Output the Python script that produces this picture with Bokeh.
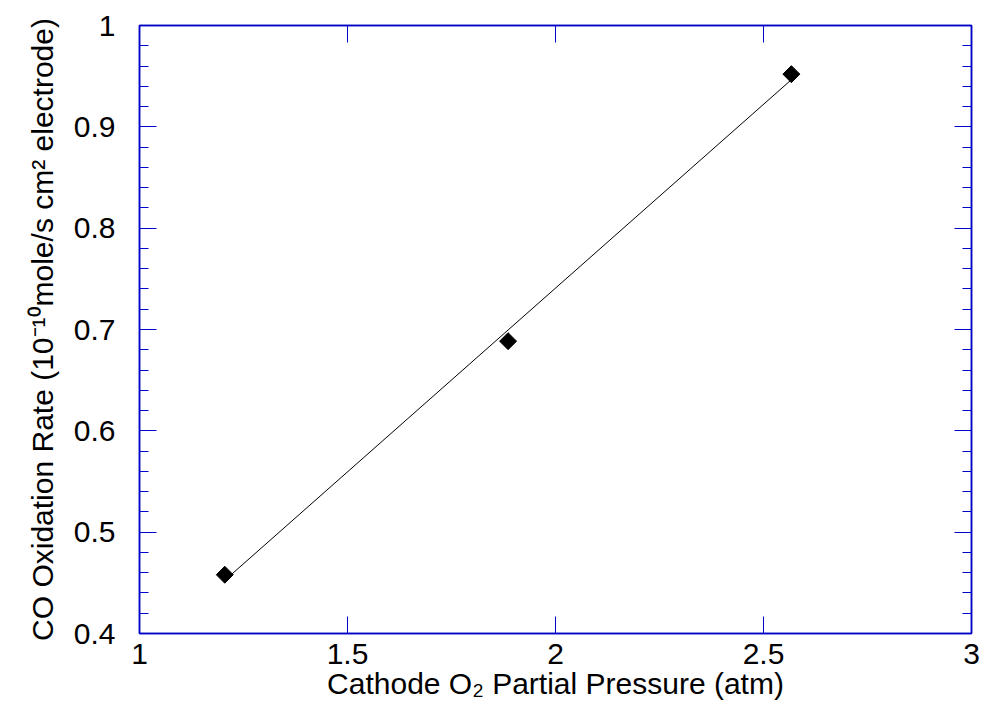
import math
import numpy as np
from bokeh.plotting import figure
from bokeh.models import LinearAxis, FixedTicker, Range1d
from bokeh.embed import file_html
from bokeh.resources import INLINE

# ---- data ----
pressure = [1.205, 1.886, 2.567]          # Cathode O2 partial pressure (atm)
rate = [0.458, 0.6885, 0.952]             # CO oxidation rate (1e-10 mole/s cm2 electrode)

x_ticks = [1, 1.5, 2, 2.5, 3]
x_tick_labels = ["1", "1.5", "2", "2.5", "3"]
y_ticks = [0.4, 0.5, 0.6, 0.7, 0.8, 0.9, 1.0]
y_tick_labels = ["0.4", "0.5", "0.6", "0.7", "0.8", "0.9", "1"]
y_minor = [round(0.4 + 0.02 * i, 2) for i in range(31)]

x_title = "Cathode O\u2082 Partial Pressure (atm)"
y_title = "CO Oxidation Rate (10\u207b\u00b9\u2070mole/s cm\u00b2 electrode)"

FONT = "Liberation Sans"
BLUE = "#0000C8"

p = figure(frame_width=832, frame_height=608,
           x_range=Range1d(1, 3), y_range=Range1d(0.4, 1.0),
           output_backend="svg", toolbar_location=None,
           x_axis_type=None, y_axis_type=None,
           min_border_left=139, min_border_top=25,
           min_border_bottom=82, min_border_right=12)
p.background_fill_color = "white"
p.border_fill_color = "white"
p.outline_line_color = BLUE
p.outline_line_width = 1.5


def style(ax, ticks, minor, labels, show_labels, standoff):
    ax.ticker = FixedTicker(ticks=ticks, minor_ticks=minor)
    ax.axis_line_color = BLUE
    ax.axis_line_width = 1.5
    ax.major_tick_line_color = BLUE
    ax.minor_tick_line_color = BLUE
    ax.major_tick_in = 17
    ax.major_tick_out = 0
    ax.minor_tick_in = 9
    ax.minor_tick_out = 0
    if show_labels:
        ax.major_label_overrides = {t: l for t, l in zip(ticks, labels)}
        ax.major_label_text_font = FONT
        ax.major_label_text_font_size = "30px"
        ax.major_label_text_color = "black"
        ax.major_label_standoff = standoff
    else:
        ax.major_label_overrides = {t: "" for t in ticks}
        ax.major_label_standoff = 0


xb = LinearAxis()
style(xb, x_ticks, [], x_tick_labels, True, 10)
xt = LinearAxis()
style(xt, x_ticks, [], x_tick_labels, False, 0)
yl = LinearAxis()
style(yl, y_ticks, y_minor, y_tick_labels, True, 24)
yr = LinearAxis()
style(yr, y_ticks, y_minor, y_tick_labels, False, 0)

for ax, title, so in ((xb, x_title, 0), (yl, y_title, 12)):
    ax.axis_label = title
    ax.axis_label_text_font = FONT
    ax.axis_label_text_font_size = "30px"
    ax.axis_label_text_font_style = "normal"
    ax.axis_label_text_color = "black"
    ax.axis_label_standoff = so

p.add_layout(xb, "below")
p.add_layout(xt, "above")
p.add_layout(yl, "left")
p.add_layout(yr, "right")

# least-squares line through the measured points
coef = np.polyfit(pressure, rate, 1)
fx = [min(pressure), max(pressure)]
fy = [float(np.polyval(coef, v)) for v in fx]
p.line(fx, fy, line_color="black", line_width=1)

p.scatter(pressure, rate, marker="square", angle=math.pi / 4, size=12,
          fill_color="black", line_color="black")

open("out.html", "w").write(file_html(p, INLINE))
